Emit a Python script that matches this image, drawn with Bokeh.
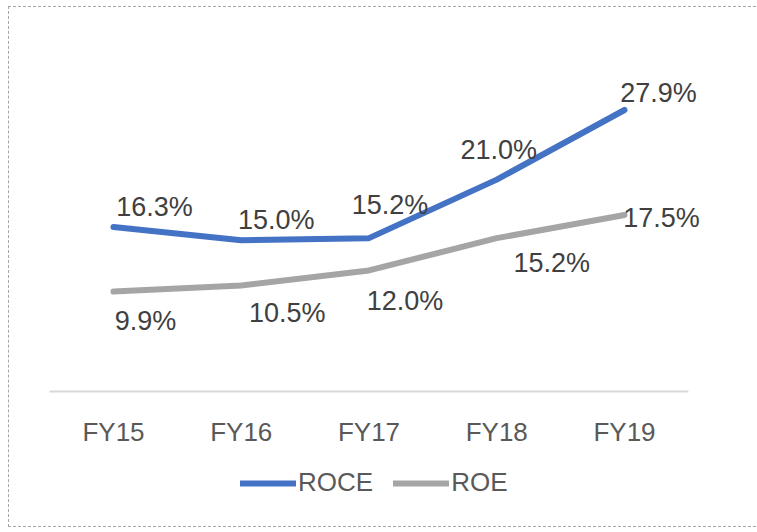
from bokeh.plotting import figure
from bokeh.models import ColumnDataSource, Range1d, Legend, LegendItem
from bokeh.core.properties import value
from bokeh.embed import file_html
from bokeh.resources import INLINE

# ---- data ----
categories = ["FY15", "FY16", "FY17", "FY18", "FY19"]
roce = [16.3, 15.0, 15.2, 21.0, 27.9]
roe = [9.9, 10.5, 12.0, 15.2, 17.5]

# ---- label placement (style: pixel offsets of each data label) ----
roce_dx = [41, 35, 21, 2, 34]
roce_dy = [-20, -20, -33, -30, -17]
roe_dx = [32, 46, 36, 55, 37]
roe_dy = [29, 27, 31, 25, 3]

FONT = "Liberation Sans"
BLUE = "#4472C4"
GRAY = "#A5A5A5"
DASH = "1px dashed #A6A6A6"

xs = list(range(len(categories)))
roce_src = ColumnDataSource(dict(x=xs, y=roce, t=[f"{v:.1f}%" for v in roce], dx=roce_dx, dy=roce_dy))
roe_src = ColumnDataSource(dict(x=xs, y=roe, t=[f"{v:.1f}%" for v in roe], dx=roe_dx, dy=roe_dy))
cat_src = ColumnDataSource(dict(x=xs, y=[0] * len(xs), t=categories))

p = figure(width=748, height=521, output_backend="svg", toolbar_location=None,
           x_range=Range1d(-0.814, 5.041), y_range=Range1d(-13.58, 38.06),
           x_axis_location=None, y_axis_location=None,
           min_border_left=0, min_border_right=0, min_border_top=0, min_border_bottom=0,
           styles={"margin-left": "8px", "margin-top": "6px",
                   "border-top": DASH, "border-left": DASH, "border-bottom": DASH})
p.grid.visible = False
p.outline_line_color = None
p.background_fill_color = "white"
p.border_fill_color = "white"

# category axis line spanning the category bands
p.line(x=[-0.5, len(categories) - 0.5], y=[0, 0], line_color="#D9D9D9", line_width=2)

# category tick labels under the axis line
p.text("x", "y", text="t", source=cat_src, y_offset=41,
       text_font=value(FONT), text_font_size="26px", text_color="#595959",
       text_align="center", text_baseline="middle")

r1 = p.line("x", "y", source=roce_src, line_color=BLUE, line_width=6,
            line_cap="round", line_join="round")
r2 = p.line("x", "y", source=roe_src, line_color=GRAY, line_width=6,
            line_cap="round", line_join="round")

for src in (roce_src, roe_src):
    p.text("x", "y", text="t", source=src, x_offset="dx", y_offset="dy",
           text_font=value(FONT), text_font_size="27px", text_color="#404040",
           text_align="center", text_baseline="middle")

legend = Legend(items=[LegendItem(label="ROCE", renderers=[r1]),
                       LegendItem(label="ROE", renderers=[r2])],
                orientation="horizontal", location=(231, 30),
                glyph_width=56, glyph_height=20, label_standoff=2, spacing=20,
                padding=0, margin=0, border_line_color=None,
                background_fill_alpha=0,
                label_text_font=FONT, label_text_font_size="26px",
                label_text_color="#595959")
p.add_layout(legend)

open("out.html", "w").write(file_html(p, INLINE))
